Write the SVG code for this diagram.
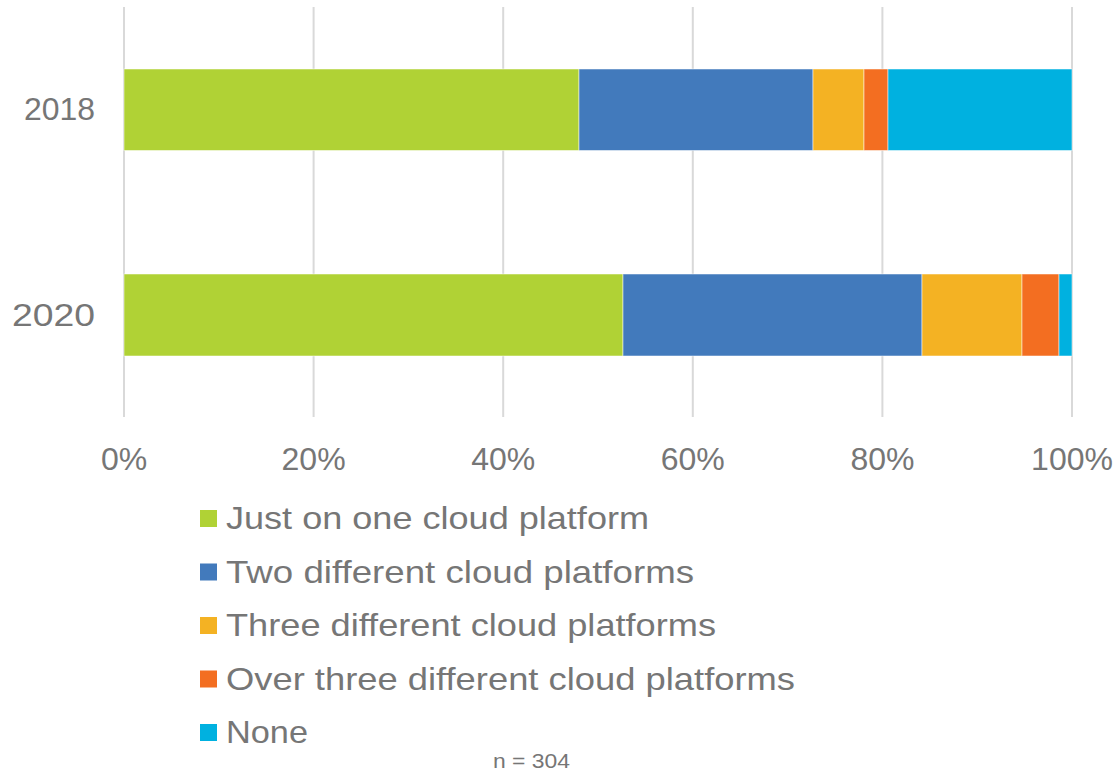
<svg xmlns="http://www.w3.org/2000/svg" width="1120" height="773" viewBox="0 0 1120 773">
<style>
.grid{stroke:#d9d9d9;stroke-width:2}
.t{font-family:"Liberation Sans",Arial,sans-serif;fill:#767676;font-size:32px}
.bar{stroke:#ffffff;stroke-opacity:0.5;stroke-width:1}
.g{fill:#b0d235}.b{fill:#427abc}.y{fill:#f4b223}.o{fill:#f36e21}.c{fill:#00b1e0}
</style>
<rect width="1120" height="773" fill="#ffffff"/>
<g id="gridlines">
<line class="grid" x1="124" y1="7" x2="124" y2="417"/>
<line class="grid" x1="313.6" y1="7" x2="313.6" y2="417"/>
<line class="grid" x1="503.2" y1="7" x2="503.2" y2="417"/>
<line class="grid" x1="692.8" y1="7" x2="692.8" y2="417"/>
<line class="grid" x1="882.4" y1="7" x2="882.4" y2="417"/>
<line class="grid" x1="1072" y1="7" x2="1072" y2="417"/>
</g>
<g id="bar-2018">
<rect class="bar g" x="124" y="69" width="455" height="81.5"/>
<rect class="bar b" x="579" y="69" width="234" height="81.5"/>
<rect class="bar y" x="813" y="69" width="51" height="81.5"/>
<rect class="bar o" x="864" y="69" width="24" height="81.5"/>
<rect class="bar c" x="888" y="69" width="184" height="81.5"/>
</g>
<g id="bar-2020">
<rect class="bar g" x="124" y="274" width="499" height="82"/>
<rect class="bar b" x="623" y="274" width="299" height="82"/>
<rect class="bar y" x="922" y="274" width="100" height="82"/>
<rect class="bar o" x="1022" y="274" width="37" height="82"/>
<rect class="bar c" x="1059" y="274" width="13" height="82"/>
</g>
<g id="y-axis-labels" class="t">
<text x="24" y="120" textLength="71" lengthAdjust="spacingAndGlyphs">2018</text>
<text x="12" y="326" textLength="83" lengthAdjust="spacingAndGlyphs">2020</text>
</g>
<g id="x-axis-labels" class="t" text-anchor="middle">
<text x="124" y="470">0%</text>
<text x="313.6" y="470">20%</text>
<text x="503.2" y="470">40%</text>
<text x="692.8" y="470">60%</text>
<text x="882.4" y="470">80%</text>
<text x="1072" y="470">100%</text>
</g>
<g id="legend">
<g id="legend-one"><rect class="g" x="200" y="510" width="17" height="17"/><text class="t" x="226" y="529" textLength="423" lengthAdjust="spacingAndGlyphs">Just on one cloud platform</text></g>
<g id="legend-two"><rect class="b" x="200" y="563.5" width="17" height="17"/><text class="t" x="226" y="582.5" textLength="468" lengthAdjust="spacingAndGlyphs">Two different cloud platforms</text></g>
<g id="legend-three"><rect class="y" x="200" y="617" width="17" height="17"/><text class="t" x="226" y="636" textLength="490" lengthAdjust="spacingAndGlyphs">Three different cloud platforms</text></g>
<g id="legend-over"><rect class="o" x="200" y="670.5" width="17" height="17"/><text class="t" x="226" y="689.5" textLength="569" lengthAdjust="spacingAndGlyphs">Over three different cloud platforms</text></g>
<g id="legend-none"><rect class="c" x="200" y="724" width="17" height="17"/><text class="t" x="226" y="743" textLength="82" lengthAdjust="spacingAndGlyphs">None</text></g>
</g>
<text id="note" class="t" x="493" y="768" textLength="77" lengthAdjust="spacingAndGlyphs" style="font-size:20px">n = 304</text>
</svg>
